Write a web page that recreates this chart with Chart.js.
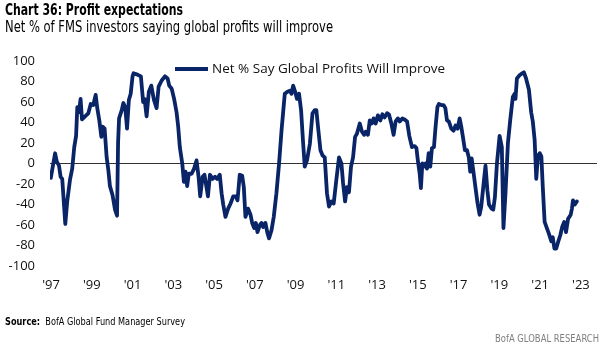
<!DOCTYPE html>
<html>
<head>
<meta charset="utf-8">
<script src="https://cdn.jsdelivr.net/npm/chart.js@4.4.1/dist/chart.umd.min.js"></script>
<style>
  html, body { margin: 0; padding: 0; background: #ffffff; }
  #page { position: relative; width: 604px; height: 347px; overflow: hidden; background: #ffffff; }
  .txt { position: absolute; white-space: nowrap; display: inline-block; transform-origin: 0 0; }
  #title { left: 5px; top: 3px; font: bold 15px/15px 'Liberation Sans Narrow', 'DejaVu Sans Condensed', 'DejaVu Sans', sans-serif; font-stretch: condensed; color: #000; }
  #subtitle { left: 5px; top: 19px; font: 16.5px/16.5px 'Liberation Sans Narrow', 'DejaVu Sans Condensed', 'DejaVu Sans', sans-serif; font-stretch: condensed; color: #000; }
  #source { left: 5px; top: 316px; font: 10.5px/10.5px 'Liberation Sans Narrow', 'DejaVu Sans Condensed', 'DejaVu Sans', sans-serif; font-stretch: condensed; color: #000; }
  #source b { font-weight: bold; }
  #brand { left: 495px; top: 333px; font: 10.5px/10.5px 'Liberation Sans Narrow', 'DejaVu Sans Condensed', 'DejaVu Sans', sans-serif; font-stretch: condensed; color: #7f7f7f; }
  #chartBox { position: absolute; left: 0; top: 0; width: 604px; height: 347px; }
</style>
</head>
<body>
<div id="page">
  <div id="chartBox"><canvas id="c" width="604" height="347"></canvas></div>
  <div id="title" class="txt" data-w="178">Chart 36: Profit expectations</div>
  <div id="subtitle" class="txt" data-w="328">Net % of FMS investors saying global profits will improve</div>
  <div id="source" class="txt" data-w="180"><b>Source:</b>&nbsp; BofA Global Fund Manager Survey</div>
  <div id="brand" class="txt" data-w="104">BofA GLOBAL RESEARCH</div>
</div>
<script>
// ---- data ----
const seriesLabel = 'Net % Say Global Profits Will Improve';
const dates = [
  1996.99, 1997.20, 1997.28, 1997.39, 1997.47, 1997.55, 1997.70, 1997.80, 1997.93,
  1998.04, 1998.14, 1998.23, 1998.29, 1998.37, 1998.45, 1998.52, 1998.67, 1998.83, 1998.95,
  1999.07, 1999.19, 1999.27, 1999.37, 1999.47, 1999.53, 1999.63, 1999.73, 1999.81, 1999.89,
  2000.02, 2000.14, 2000.24, 2000.29, 2000.34, 2000.47, 2000.55, 2000.64, 2000.73, 2000.82, 2000.91,
  2001.00, 2001.05, 2001.20, 2001.41, 2001.52, 2001.59, 2001.69, 2001.80, 2001.92,
  2002.05, 2002.18, 2002.28, 2002.43, 2002.59, 2002.72, 2002.80, 2002.92,
  2003.04, 2003.16, 2003.24, 2003.32, 2003.44, 2003.52, 2003.60, 2003.68, 2003.76, 2003.90,
  2004.02, 2004.14, 2004.24, 2004.32, 2004.44, 2004.53, 2004.70, 2004.80, 2004.93,
  2005.05, 2005.15, 2005.28, 2005.37, 2005.45, 2005.56, 2005.69, 2005.81, 2005.94,
  2006.07, 2006.15, 2006.26, 2006.38, 2006.46, 2006.54, 2006.67, 2006.79, 2006.87, 2006.97,
  2007.05, 2007.13, 2007.25, 2007.33, 2007.41, 2007.52, 2007.62, 2007.70, 2007.82, 2007.93,
  2008.06, 2008.19, 2008.31, 2008.39, 2008.47, 2008.60, 2008.72, 2008.80, 2008.88, 2008.98,
  2009.07, 2009.17, 2009.27, 2009.37, 2009.45, 2009.56, 2009.70, 2009.83, 2009.94,
  2010.02, 2010.10, 2010.22, 2010.32, 2010.43, 2010.54, 2010.64, 2010.76, 2010.87,
  2011.00, 2011.13, 2011.25, 2011.33, 2011.43, 2011.52, 2011.62, 2011.72, 2011.82, 2011.92,
  2012.01, 2012.15, 2012.26, 2012.36, 2012.44, 2012.55, 2012.64, 2012.74, 2012.83, 2012.93,
  2013.04, 2013.16, 2013.26, 2013.37, 2013.49, 2013.58, 2013.70, 2013.81, 2013.91,
  2014.02, 2014.11, 2014.24, 2014.35, 2014.47, 2014.58, 2014.71, 2014.84, 2014.93,
  2015.00, 2015.09, 2015.15, 2015.22, 2015.30, 2015.38, 2015.45, 2015.53, 2015.61, 2015.69, 2015.79, 2015.87, 2015.96,
  2016.03, 2016.15, 2016.26, 2016.35, 2016.43, 2016.52, 2016.64, 2016.75, 2016.85, 2016.95,
  2017.05, 2017.13, 2017.21, 2017.31, 2017.41, 2017.50, 2017.57, 2017.64, 2017.74, 2017.83, 2017.93,
  2018.03, 2018.11, 2018.23, 2018.32, 2018.41, 2018.49, 2018.62, 2018.70, 2018.78, 2018.88,
  2019.01, 2019.12, 2019.20, 2019.30, 2019.42, 2019.53, 2019.66, 2019.75, 2019.79, 2019.86, 2019.99,
  2020.12, 2020.20, 2020.31, 2020.45, 2020.56, 2020.64, 2020.73, 2020.81, 2020.89, 2020.98,
  2021.06, 2021.13, 2021.22, 2021.33, 2021.42, 2021.55, 2021.62, 2021.70, 2021.79, 2021.89, 2021.99,
  2022.08, 2022.18, 2022.27, 2022.37, 2022.50, 2022.56, 2022.61, 2022.70, 2022.80
];
const values = [
  -14, 10, 2, -2, -13, -15, -59, -36, -16,
  -5, 16, 27, 55, 50, 63, 43, 46, 49, 58,
  57, 67, 54, 42, 26, 36, 34, 6, -6, -22,
  -31, -45, -51, 20, 44, 52, 59, 55, 34, 62, 68,
  85, 88, 87, 85, 60, 63, 46, 70, 76,
  62, 54, 75, 81, 85, 83, 76, 73,
  63, 50, 36, 16, 0, -18, -8, -22, -10, -10,
  -5, 3, -13, -32, -13, -11, -32, -11, -15,
  -13, -15, -11, -29, -40, -52, -44, -39, -32,
  -32, -36, -11, -12, -23, -52, -44, -50, -58, -63,
  -58, -67, -60, -58, -62, -58, -68, -73, -65, -52,
  -29, 0, 32, 50, 68, 70, 71, 68, 76, 70,
  63, 68, 52, 20, -3, 3, 19, 49, 52,
  52, 36, 13, 8, 6, -29, -42, -37, -39,
  -16, 6, 0, -19, -37, -23, -28, -3, 6, 26,
  29, 39, 31, 28, 31, 28, 42, 39, 44, 39,
  47, 42, 48, 45, 49, 48, 39, 28, 41,
  44, 41, 44, 43, 41, 27, 16, 17, 15,
  3, -10, -24, 0, -3, 0, -5, 10, -3, 15, 16, 36, 55,
  58, 57, 57, 54, 42, 41, 34, 32, 37, 34,
  44, 36, 26, 13, 13, 6, -8, 5, -10, -24, -39,
  -50, -42, -19, -2, -26, -40, -44, -45, -33, 0,
  27, 16, -63, -29, 20, 42, 65, 68, 63, 83, 86,
  88, 89, 83, 72, 50, 41, 23, -15, 7, 10,
  7, -23, -57, -63, -68, -76, -72, -83, -83, -76, -70,
  -62, -57, -67, -54, -50, -44, -36, -40, -37
];
const xTickYears = [1997, 1999, 2001, 2003, 2005, 2007, 2009, 2011, 2013, 2015, 2017, 2019, 2021, 2023];
const yMin = -100, yMax = 100, yStep = 20;

// ---- fit header/footer text widths to the reference ----
document.querySelectorAll('.txt').forEach(el => {
  const target = parseFloat(el.dataset.w);
  const w = el.getBoundingClientRect().width;
  if (w > 0) el.style.transform = 'scaleX(' + (target / w) + ')';
});

const lineColor = '#0a2468';

const legendInPlot = {
  id: 'legendInPlot',
  afterDatasetsDraw(chart) {
    const ctx = chart.ctx, a = chart.chartArea;
    const ds = chart.data.datasets[0];
    const x0 = a.left + 125, y = a.top + 8;
    ctx.save();
    ctx.strokeStyle = ds.borderColor;
    ctx.lineWidth = 3.8;
    ctx.lineCap = 'butt';
    ctx.beginPath(); ctx.moveTo(x0, y); ctx.lineTo(x0 + 33, y); ctx.stroke();
    ctx.fillStyle = '#111111';
    ctx.font = "13.5px 'Open Sans', sans-serif";
    ctx.textBaseline = 'middle';
    ctx.textAlign = 'left';
    ctx.fillText(ds.label, x0 + 37, y);
    ctx.restore();
  }
};

Chart.defaults.font.family = "'Open Sans', sans-serif";
Chart.defaults.font.size = 13;
Chart.defaults.color = '#111111';

new Chart(document.getElementById('c'), {
  type: 'line',
  data: {
    datasets: [{
      label: seriesLabel,
      data: dates.map((d, i) => ({ x: d, y: values[i] })),
      borderColor: lineColor,
      backgroundColor: lineColor,
      borderWidth: 3.8,
      pointRadius: 0,
      tension: 0,
      fill: false,
      borderJoinStyle: 'round',
      borderCapStyle: 'round'
    }]
  },
  options: {
    responsive: false,
    animation: false,
    devicePixelRatio: 1,
    layout: { padding: { top: 61, right: 7, bottom: 51, left: 0 } },
    plugins: { legend: { display: false }, tooltip: { enabled: false } },
    scales: {
      x: {
        type: 'linear',
        min: 1996.95,
        max: 2023.79,
        grid: { display: false, drawTicks: false },
        border: { display: false },
        afterBuildTicks: axis => { axis.ticks = xTickYears.map(v => ({ value: v })); },
        afterFit: s => { s.height = 30; },
        ticks: {
          autoSkip: false, maxRotation: 0, padding: 11,
          font: { size: 13 },
          callback: v => "'" + String(v).slice(2)
        }
      },
      y: {
        min: yMin, max: yMax,
        grid: {
          drawTicks: false,
          color: c => (c.tick && c.tick.value === 0) ? '#333333' : 'rgba(0,0,0,0)',
          lineWidth: 1
        },
        border: { display: false },
        afterFit: s => { s.width = 50; },
        ticks: { stepSize: yStep, padding: 15, font: { size: 13 } }
      }
    }
  },
  plugins: [legendInPlot]
});
</script>
</body>
</html>
